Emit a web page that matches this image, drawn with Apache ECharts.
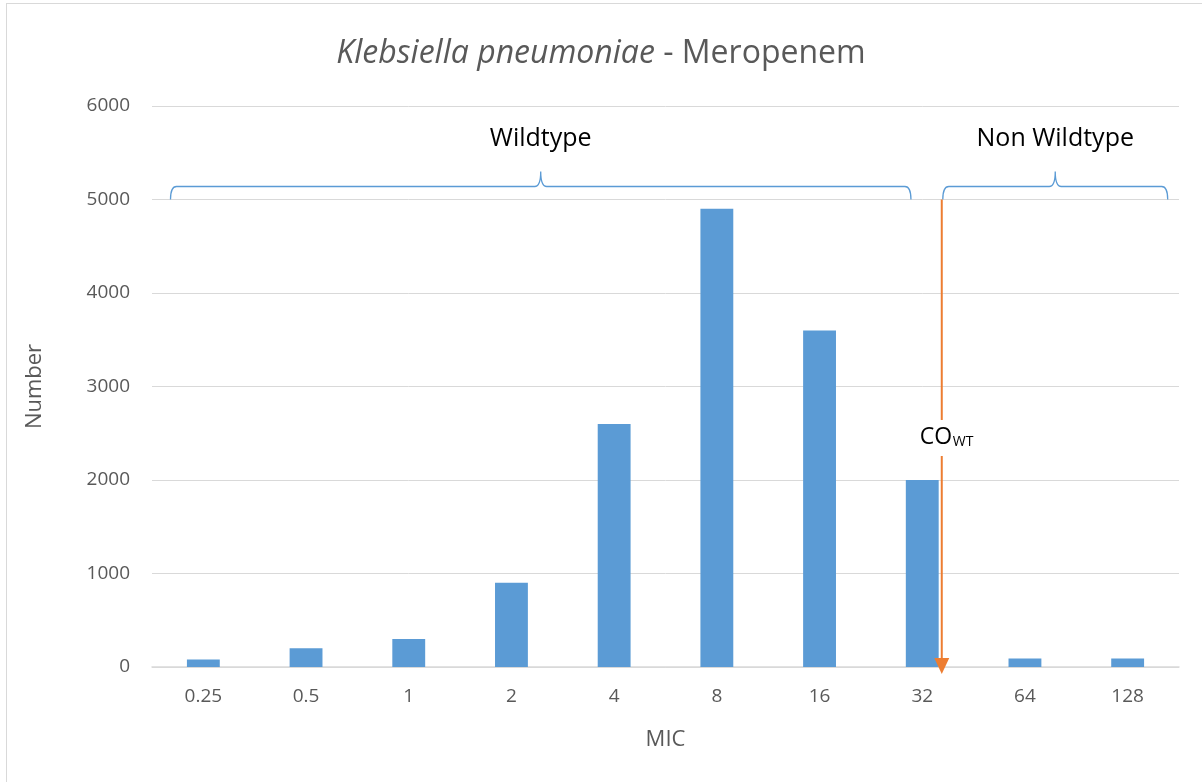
<!DOCTYPE html>
<html>
<head>
<meta charset="utf-8">
<script src="https://cdn.jsdelivr.net/npm/echarts@6/dist/echarts.min.js"></script>
<style>
html,body{margin:0;padding:0;background:#fff;overflow:hidden;}
#frame{position:absolute;left:6px;top:3px;width:1400px;height:900px;border:1px solid #d9d9d9;box-sizing:border-box;}
#chart{position:absolute;left:0;top:0;width:1202px;height:782px;}
</style>
</head>
<body>
<div id="frame"></div>
<div id="chart"></div>
<script>
// ---- data ----
const categories = ['0.25', '0.5', '1', '2', '4', '8', '16', '32', '64', '128'];
const counts = [80, 200, 300, 900, 2600, 4900, 3600, 2000, 90, 90];
const groupLabels = ['Wildtype', 'Non Wildtype'];
const groupFrom = [-0.32, 7.2];   // in category-index units
const groupTo = [6.89, 9.39];
const bracketBase = 5000;
const cutoffX = 7.19;             // CO_WT between 32 and 64
const cutoffLabelY = 2460;
const yMin = 0, yMax = 6000, yStep = 1000;

const FONT = 'Open Sans';
const GREY = '#595959';

const chart = echarts.init(document.getElementById('chart'), null, {renderer: 'canvas'});

const bracketData = groupLabels.map((l, i) => [groupFrom[i], groupTo[i], bracketBase]);

chart.setOption({
  backgroundColor: 'transparent',
  animation: false,
  title: {
    text: '{i|Klebsiella pneumoniae}{n| - Meropenem}',
    left: 'center',
    top: 33,
    textStyle: {
      fontWeight: 'normal',
      rich: {
        i: {fontFamily: FONT, fontSize: 32, fontStyle: 'italic', fontWeight: 'normal', color: GREY},
        n: {fontFamily: FONT, fontSize: 32, fontWeight: 'normal', color: GREY}
      }
    }
  },
  grid: {left: 152, right: 23, top: 106, bottom: 115},
  xAxis: [{
    type: 'category',
    data: categories,
    name: 'MIC',
    nameLocation: 'middle',
    nameGap: 62,
    nameTextStyle: {fontFamily: FONT, fontSize: 22, color: GREY},
    axisLine: {lineStyle: {color: '#d9d9d9', width: 1.5}},
    axisTick: {show: false},
    axisLabel: {fontFamily: FONT, fontSize: 19, color: GREY, margin: 20}
  }, {
    type: 'value', min: -0.5, max: 9.5, show: false
  }],
  yAxis: {
    type: 'value',
    min: yMin, max: yMax, interval: yStep,
    name: 'Number',
    nameLocation: 'middle',
    nameRotate: 90,
    nameGap: 106,
    nameTextStyle: {fontFamily: FONT, fontSize: 22, color: GREY},
    axisLine: {show: false},
    axisTick: {show: false},
    axisLabel: {fontFamily: FONT, fontSize: 19, color: GREY, margin: 22,
                formatter: function (v) { return String(v); }},
    splitLine: {lineStyle: {color: '#d9d9d9', width: 1}}
  },
  series: [{
    type: 'bar',
    data: counts,
    barWidth: '32%',
    itemStyle: {color: '#5B9BD5'}
  }, {
    type: 'custom',
    xAxisIndex: 1,
    data: bracketData,
    encode: {x: [0, 1], y: 2},
    z: 5,
    renderItem: function (params, api) {
      const i = params.dataIndex;
      const p1 = api.coord([api.value(0), api.value(2)]);
      const p2 = api.coord([api.value(1), api.value(2)]);
      const xL = p1[0], xR = p2[0], yb = p1[1];
      const ym = yb - 13, xm = (xL + xR) / 2, tip = ym - 15;
      const d = 'M' + xL + ',' + yb + ' Q' + xL + ',' + ym + ' ' + (xL + 6) + ',' + ym +
        ' L' + (xm - 6) + ',' + ym + ' Q' + xm + ',' + ym + ' ' + xm + ',' + tip +
        ' Q' + xm + ',' + ym + ' ' + (xm + 6) + ',' + ym +
        ' L' + (xR - 6) + ',' + ym + ' Q' + xR + ',' + ym + ' ' + xR + ',' + yb;
      return {
        type: 'group',
        children: [{
          type: 'path',
          shape: {pathData: d},
          style: {fill: null, stroke: '#5B9BD5', lineWidth: 1.3}
        }, {
          type: 'text',
          x: xm, y: tip - 33,
          style: {text: groupLabels[i], fontFamily: FONT, fontSize: 25, fill: '#000',
                  align: 'center', verticalAlign: 'middle'}
        }]
      };
    }
  }, {
    type: 'custom',
    xAxisIndex: 1,
    data: [[cutoffX, bracketBase, yMin, cutoffLabelY]],
    encode: {x: 0, y: [1, 2]},
    z: 6,
    renderItem: function (params, api) {
      const top = api.coord([api.value(0), api.value(1)]);
      const bot = api.coord([api.value(0), api.value(2)]);
      const lab = api.coord([api.value(0), api.value(3)]);
      const x = top[0];
      const tipY = bot[1] + 7;
      const headTop = tipY - 16;
      const gapTop = lab[1] - 17, gapBot = lab[1] + 19;
      const lineStyle = {stroke: '#ED7D31', lineWidth: 2};
      return {
        type: 'group',
        children: [{
          type: 'line', shape: {x1: x, y1: top[1], x2: x, y2: gapTop}, style: lineStyle
        }, {
          type: 'line', shape: {x1: x, y1: gapBot, x2: x, y2: headTop + 2}, style: lineStyle
        }, {
          type: 'polygon',
          shape: {points: [[x - 7.5, headTop], [x + 7.5, headTop], [x, tipY]]},
          style: {fill: '#ED7D31'}
        }, {
          type: 'text', x: x - 22, y: lab[1],
          style: {text: 'CO', fontFamily: FONT, fontSize: 23, fill: '#000',
                  align: 'left', verticalAlign: 'middle'}
        }, {
          type: 'text', x: x + 11, y: lab[1] + 5,
          style: {text: 'WT', fontFamily: FONT, fontSize: 14, fill: '#000',
                  align: 'left', verticalAlign: 'middle'}
        }]
      };
    }
  }]
});
</script>
</body>
</html>
